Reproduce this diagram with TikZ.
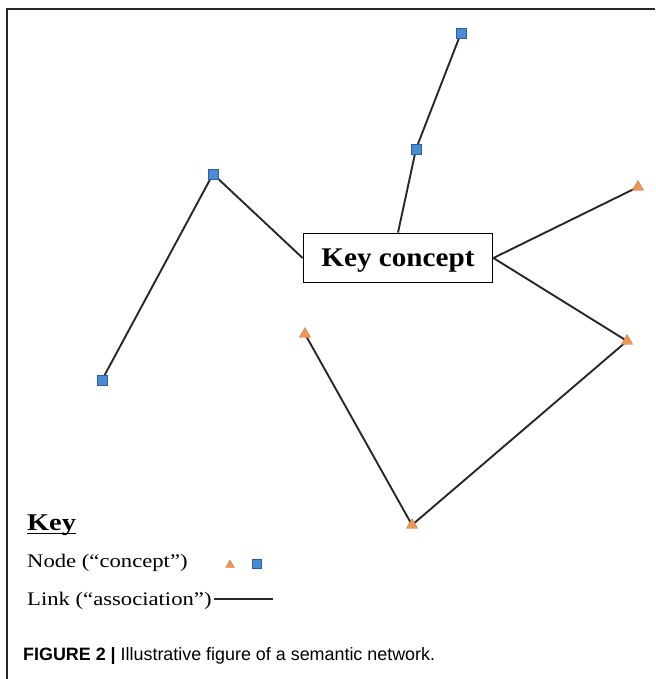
\documentclass[tikz,border=0pt]{standalone}
\usepackage{fontspec}
\usetikzlibrary{shapes.geometric}
\newfontfamily\figserif[FakeStretch=1.18]{Liberation Serif}
\newfontfamily\keyserif[FakeStretch=1.08]{Liberation Serif}
\newfontfamily\capsans{Liberation Sans}
\definecolor{sqfill}{RGB}{74,140,212}
\definecolor{sqdraw}{RGB}{45,95,160}
\definecolor{trfill}{RGB}{240,150,85}
\definecolor{linecol}{RGB}{40,40,40}
\pgfdeclarelayer{bg}
\pgfsetlayers{bg,main}
\tikzset{
  sq/.style={rectangle, fill=sqfill, draw=sqdraw, line width=0.8pt, minimum size=10pt, inner sep=0pt},
  tri/.style={regular polygon, regular polygon sides=3, fill=trfill, draw=trfill!85!black, line width=0.4pt, minimum size=13pt, inner sep=0pt},
  link/.style={draw=linecol, line width=1.9pt},
  frameline/.style={draw=linecol, line width=2pt},
  lbl/.style={anchor=base west, inner sep=0pt, font=\figserif\fontsize{19.2}{22}\selectfont}
}
\begin{document}
\begin{tikzpicture}[x=1pt,y=-1pt]
\useasboundingbox (0,0) rectangle (655,679);
% frame
\coordinate (ftl) at (7,9);
\coordinate (ftr) at (655,9);
\coordinate (fbl) at (7,679);
\draw[frameline] (ftr) -- (ftl) -- (fbl);
% nodes
\node[draw=black, line width=1.8pt, fill=white, minimum width=189pt, minimum height=49pt, inner sep=0pt,
      text depth=0pt, font=\keyserif\bfseries\fontsize{27}{30}\selectfont] (key) at (398,258) {Key concept};
\node[sq] (s1) at (461,33) {};
\node[sq] (s2) at (416,149) {};
\node[sq] (s3) at (213,174) {};
\node[sq] (s4) at (102,380) {};
\node[tri] (t1) at (638,187) {};
\node[tri] (t2) at (627,341) {};
\node[tri] (t3) at (305,334) {};
\node[tri] (t4) at (412,525) {};
\begin{pgfonlayer}{bg}
\draw[link] (s1.center) -- (s2.center);
\draw[link] (s2.center) -- (key.north);
\draw[link] (s3.center) -- (key.west);
\draw[link] (s3.center) -- (s4.center);
\draw[link] (key.east) -- (t1.center);
\draw[link] (key.east) -- (t2.center);
\draw[link] (t2.center) -- (t4.center);
\draw[link] (t4.center) -- (t3.center);
\end{pgfonlayer}
% legend
\node[anchor=base west, inner sep=0pt, font=\figserif\bfseries\fontsize{24}{28}\selectfont] (keyttl) at (27,530) {Key};
\draw[line width=1.8pt] ([yshift=-3.5pt]keyttl.base west) -- ([yshift=-3.5pt]keyttl.base east);
\node[lbl] (nodelbl) at (27,567) {Node (“concept”)};
\node[tri, minimum size=10pt] (ltri) at (230,565) {};
\node[sq, minimum size=9pt] (lsq) at (257,564) {};
\node[lbl] (linklbl) at (27,605) {Link (“association”)};
\coordinate (la) at (214,599);
\coordinate (lb) at (273,599);
\draw[link] (la) -- (lb);
% caption
\node[anchor=base west, inner sep=0pt, font=\capsans\fontsize{17.9}{20}\selectfont] (cap) at (23,660)
  {\textbf{FIGURE 2 |} Illustrative figure of a semantic network.};
\end{tikzpicture}
\end{document}
